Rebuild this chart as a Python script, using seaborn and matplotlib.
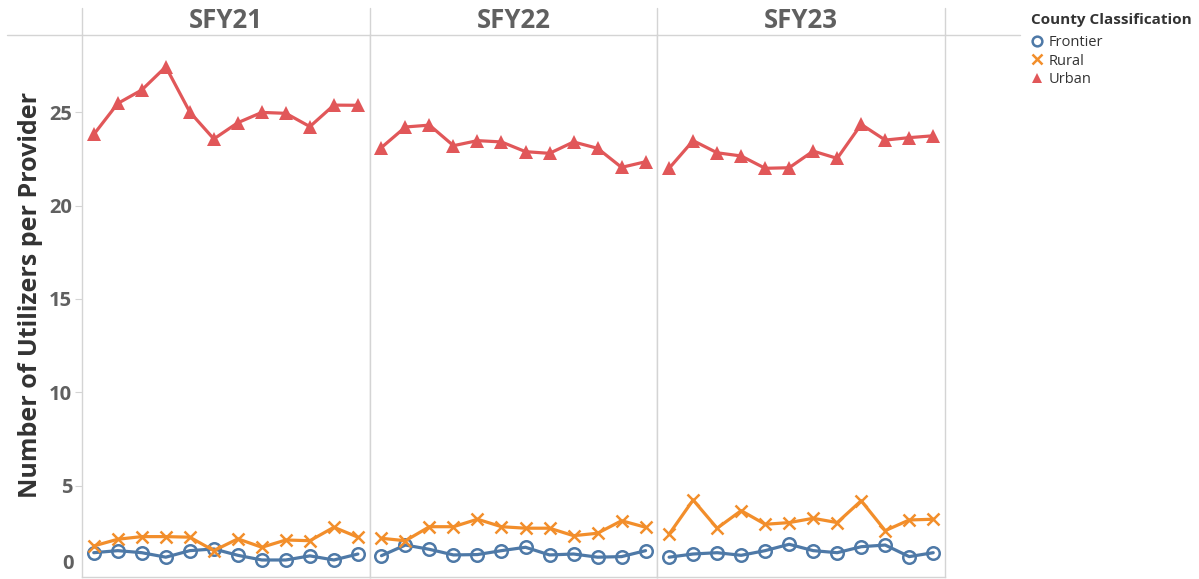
import matplotlib
matplotlib.use("Agg")
import matplotlib.pyplot as plt
from matplotlib.lines import Line2D
import seaborn as sns
import pandas as pd

# ---- data -------------------------------------------------------------
years = ["SFY21", "SFY22", "SFY23"]
classes = ["Frontier", "Rural", "Urban"]
months = list(range(1, 13))

frontier_sfy21 = [1.43, 1.54, 1.43, 1.19, 1.54, 1.63, 1.29, 1.04, 1.04, 1.26, 1.04, 1.36]
frontier_sfy22 = [1.27, 1.84, 1.61, 1.31, 1.33, 1.54, 1.72, 1.31, 1.36, 1.19, 1.22, 1.54]
frontier_sfy23 = [1.19, 1.36, 1.43, 1.29, 1.54, 1.88, 1.54, 1.43, 1.75, 1.84, 1.22, 1.43]

rural_sfy21 = [1.79, 2.15, 2.29, 2.29, 2.26, 1.54, 2.17, 1.72, 2.11, 2.07, 2.79, 2.26]
rural_sfy22 = [2.20, 2.07, 2.82, 2.82, 3.22, 2.82, 2.74, 2.74, 2.34, 2.47, 3.14, 2.79]
rural_sfy23 = [2.42, 4.25, 2.74, 3.68, 2.95, 3.04, 3.27, 3.04, 4.21, 2.61, 3.18, 3.22]

urban_sfy21 = [23.80, 25.46, 26.18, 27.42, 25.00, 23.56, 24.43, 24.98, 24.93, 24.22, 25.37, 25.36]
urban_sfy22 = [23.10, 24.20, 24.30, 23.20, 23.47, 23.40, 22.88, 22.79, 23.40, 23.06, 22.04, 22.34]
urban_sfy23 = [21.99, 23.47, 22.82, 22.65, 21.99, 22.02, 22.91, 22.52, 24.34, 23.50, 23.63, 23.73]

y_ticks = [5, 10, 15, 20, 25]

series = {
    ("Frontier", "SFY21"): frontier_sfy21, ("Frontier", "SFY22"): frontier_sfy22,
    ("Frontier", "SFY23"): frontier_sfy23,
    ("Rural", "SFY21"): rural_sfy21, ("Rural", "SFY22"): rural_sfy22,
    ("Rural", "SFY23"): rural_sfy23,
    ("Urban", "SFY21"): urban_sfy21, ("Urban", "SFY22"): urban_sfy22,
    ("Urban", "SFY23"): urban_sfy23,
}
rows = []
for (cls, yr), vals in series.items():
    for m, v in zip(months, vals):
        rows.append({"cls": cls, "year": yr, "month": m, "value": v})
df = pd.DataFrame(rows)

# ---- style ------------------------------------------------------------
sns.set_style("white")
plt.rcParams["font.family"] = ["Open Sans", "DejaVu Sans"]

colors = {"Frontier": "#4e79a7", "Rural": "#f28e2b", "Urban": "#e15759"}
marker_kw = {
    "Frontier": dict(marker="o", markersize=9, markerfacecolor="none",
                     markeredgewidth=1.8),
    "Rural": dict(marker="x", markersize=8, markeredgewidth=1.8),
    "Urban": dict(marker="^", markersize=9.5, markeredgewidth=0),
}
grid_col = "#d4d4d4"
text_col = "#606060"

W, H = 1199, 579
fig = plt.figure(figsize=(W / 100, H / 100), dpi=100)

left_px, right_px, top_px, bottom_px = 82, 945, 35, 577
panel_w = (right_px - left_px) / 3
axes = []
for i, yr in enumerate(years):
    x0 = (left_px + i * panel_w) / W
    ax = fig.add_axes([x0, 1 - bottom_px / H, panel_w / W, (bottom_px - top_px) / H])
    sub = df[df["year"] == yr]
    for cls in classes:
        d = sub[sub["cls"] == cls]
        sns.lineplot(data=d, x="month", y="value", ax=ax, color=colors[cls],
                     linewidth=2.3, markeredgecolor=colors[cls], legend=False,
                     **marker_kw[cls])
    ax.set_xlim(0.51, 12.49)
    ax.set_ylim(0.13, 29.12)
    ax.set_xlabel("")
    ax.set_ylabel("")
    ax.set_xticks([])
    for side in ["left", "right", "bottom"]:
        ax.spines[side].set_visible(True)
        ax.spines[side].set_color(grid_col)
        ax.spines[side].set_linewidth(1.0)
    ax.spines["top"].set_visible(False)
    if i == 0:
        ax.set_yticks(y_ticks)
        ax.tick_params(axis="y", length=5, width=0.8, color=grid_col, pad=2,
                       labelsize=14.5, labelcolor=text_col, left=True)
        for lab in ax.get_yticklabels():
            lab.set_fontweight("bold")
        # zero label sits just inside the visible area
        ax.annotate("0", xy=(0, 0), xycoords=("axes fraction", "data"),
                    xytext=(-8, 15), textcoords="offset pixels",
                    ha="right", va="center", fontsize=14.5, fontweight="bold",
                    color=text_col, annotation_clip=False)
        ax.set_ylabel("Number of Utilizers per Provider", fontsize=18,
                      fontweight="bold", color="#333333")
        ax.yaxis.set_label_coords(-0.137, 0.52)
    else:
        ax.set_yticks([])
    fig.text((left_px + (i + 0.5) * panel_w) / W, 1 - 21 / H, yr,
             ha="center", va="center", fontsize=18.5, fontweight="bold",
             color=text_col)
    axes.append(ax)

# header separator and panel dividers above the plot area
fig.add_artist(Line2D([7 / W, 1020 / W], [1 - top_px / H] * 2,
                      color=grid_col, linewidth=1.0))
for k in range(4):
    xk = (left_px + k * panel_w) / W
    fig.add_artist(Line2D([xk, xk], [1 - 8 / H, 1 - top_px / H],
                          color=grid_col, linewidth=1.0))

# legend
handles = [Line2D([], [], linestyle="none", color=colors[c],
                  markeredgecolor=colors[c],
                  **{**marker_kw[c], "markersize": 7}) for c in classes]
leg = fig.legend(handles, classes, title="County Classification",
                 loc="upper left", bbox_to_anchor=(1031 / W, 1 - 13 / H),
                 frameon=False, fontsize=10.5,
                 title_fontproperties={"weight": "bold", "size": 11},
                 handlelength=0.8, handletextpad=0.4, labelspacing=0.22,
                 borderpad=0, borderaxespad=0)
leg._legend_box.align = "left"
leg._legend_box.sep = 6
leg.get_title().set_color("#333333")
for t in leg.get_texts():
    t.set_color("#333333")

fig.savefig("out.png", dpi=100)
